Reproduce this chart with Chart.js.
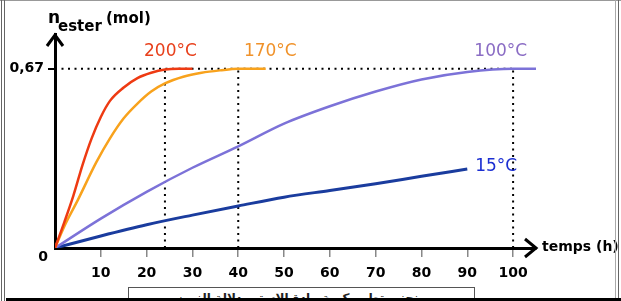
<!DOCTYPE html>
<html>
<head>
<meta charset="utf-8">
<script src="https://cdn.jsdelivr.net/npm/chart.js@4"></script>
<style>
  html, body { margin: 0; padding: 0; background: #fff; }
  #wrap { position: relative; width: 621px; height: 301px; overflow: hidden; background: #fff; }
  #chart { position: absolute; left: 0; top: 0; }
  .line { position: absolute; }
  #caption {
    position: absolute; left: 128px; top: 287px; width: 347px; height: 20px;
    border: 1px solid #555; background: #fff; overflow: hidden;
    font: bold 12px "DejaVu Sans", sans-serif; text-align: center; line-height: 12px;
    padding-top: 4px; box-sizing: border-box;
    direction: rtl; color: #222;
  }
</style>
</head>
<body>
<div id="wrap">
  <canvas id="chart" width="621" height="301"></canvas>
  <div class="line" style="left:0;top:0;width:621px;height:1px;background:#999"></div>
  <div class="line" style="left:1px;top:0;width:1px;height:301px;background:#666"></div>
  <div class="line" style="left:4px;top:0;width:1px;height:301px;background:#666"></div>
  <div class="line" style="left:615px;top:0;width:1px;height:301px;background:#aaa"></div>
  <div class="line" style="left:618px;top:0;width:1px;height:301px;background:#666"></div>
  <div id="caption">منحنى تطور كمية مادة الإستر بدلالة الزمن</div>
  <div class="line" style="left:6px;top:298px;width:615px;height:3px;background:#000"></div>
</div>
<script>
// data: time (h) and n_ester (mol)
const t200 = [0, 2, 4, 6, 8, 10, 12, 15, 18, 21, 24, 27, 30];
const n200 = [0, 0.095, 0.195, 0.31, 0.41, 0.49, 0.55, 0.60, 0.635, 0.655, 0.667, 0.67, 0.67];

const t170 = [0, 2, 5, 9, 12, 15, 18, 21, 24, 28, 32, 36, 40, 46];
const n170 = [0, 0.08, 0.18, 0.32, 0.41, 0.485, 0.54, 0.585, 0.615, 0.64, 0.655, 0.664, 0.67, 0.67];

const t100 = [0, 10, 20, 30, 40, 50, 60, 70, 80, 90, 100, 105];
const n100 = [0, 0.11, 0.21, 0.30, 0.38, 0.465, 0.53, 0.585, 0.63, 0.658, 0.67, 0.67];

const t15 = [0, 10, 20, 30, 40, 50, 60, 70, 80, 90];
const n15 = [0, 0.045, 0.087, 0.123, 0.157, 0.19, 0.215, 0.24, 0.268, 0.295];

const seriesNames = ['200°C', '170°C', '100°C', '15°C'];
const lineColors = ['#ee3a12', '#f8a21c', '#7c72d8', '#1a3c9e'];
const textColors = ['#e8401c', '#f0922a', '#8a6cc4', '#1c2fd2'];
// where each series name sits (time, mol)
const labelT = [25.2, 47, 97.3, 96.3];
const labelN = [0.736, 0.736, 0.736, 0.304];

const nFinal = 0.67;
const markTimes = [24, 40, 100];   // dotted drop lines
const xTicks = [10, 20, 30, 40, 50, 60, 70, 80, 90, 100];

const pts = (ts, ns) => ts.map((t, i) => ({ x: t, y: ns[i] }));
const seriesData = [pts(t200, n200), pts(t170, n170), pts(t100, n100), pts(t15, n15)];

const datasets = seriesData.map((d, i) => ({
    label: seriesNames[i],
    data: d,
    borderColor: lineColors[i],
    borderWidth: i === 3 ? 3 : 2.5,
    pointRadius: 0,
    fill: false,
    cubicInterpolationMode: 'monotone',
    order: 0
}));

const dotted = {
    borderColor: '#000',
    borderWidth: 2,
    borderDash: [2, 4.5],
    pointRadius: 0,
    fill: false,
    order: 1
};
datasets.push({ ...dotted, label: 'h', data: [{ x: 0, y: nFinal }, { x: markTimes[2], y: nFinal }] });
markTimes.forEach(t => {
    datasets.push({ ...dotted, label: 'v' + t, data: [{ x: t, y: 0 }, { x: t, y: nFinal }] });
});

const annotations = {
    id: 'annotations',
    afterDraw(chart) {
        const { ctx, chartArea, scales } = chart;
        const x0 = chartArea.left, y0 = chartArea.bottom;
        ctx.save();
        ctx.strokeStyle = '#000';
        ctx.lineWidth = 3;
        ctx.lineCap = 'butt';
        ctx.lineJoin = 'miter';
        // arrow heads
        ctx.beginPath();
        ctx.moveTo(chartArea.right - 11, y0 - 9);
        ctx.lineTo(chartArea.right, y0);
        ctx.lineTo(chartArea.right - 11, y0 + 9);
        ctx.stroke();
        ctx.beginPath();
        ctx.moveTo(x0 - 8, chartArea.top + 12);
        ctx.lineTo(x0, chartArea.top + 1);
        ctx.lineTo(x0 + 8, chartArea.top + 12);
        ctx.stroke();

        ctx.fillStyle = '#000';
        ctx.textBaseline = 'middle';
        ctx.font = 'bold 14px "DejaVu Sans", sans-serif';
        ctx.textAlign = 'center';
        ctx.fillText('0', x0 - 12, y0 + 9);

        ctx.textAlign = 'left';
        ctx.font = 'bold 14px "DejaVu Sans", sans-serif';
        ctx.fillText('temps (h)', chartArea.right + 6, y0 - 1);

        ctx.textBaseline = 'alphabetic';
        ctx.font = 'bold 17px "DejaVu Sans", sans-serif';
        ctx.fillText('n', 48, 23);
        ctx.font = 'bold 15px "DejaVu Sans", sans-serif';
        ctx.fillText('ester', 58, 31);
        ctx.fillText('(mol)', 106, 23);

        ctx.font = '17px "DejaVu Sans", sans-serif';
        ctx.textAlign = 'center';
        ctx.textBaseline = 'middle';
        seriesNames.forEach((name, i) => {
            ctx.fillStyle = textColors[i];
            ctx.fillText(name, scales.x.getPixelForValue(labelT[i]), scales.y.getPixelForValue(labelN[i]));
        });
        ctx.restore();
    }
};

new Chart(document.getElementById('chart'), {
    type: 'line',
    data: { datasets },
    options: {
        responsive: false,
        animation: false,
        events: [],
        layout: { padding: { left: 0, top: 34, right: 85, bottom: 0 } },
        plugins: { legend: { display: false }, tooltip: { enabled: false } },
        scales: {
            x: {
                type: 'linear',
                min: 0,
                max: 105,
                afterFit: s => { s.height = 53; },
                afterBuildTicks: s => { s.ticks = xTicks.map(v => ({ value: v })); },
                border: { display: true, color: '#000', width: 3 },
                grid: { drawOnChartArea: false, drawTicks: true, tickLength: 9, color: '#888', lineWidth: 1.5 },
                ticks: {
                    color: '#000',
                    padding: 8,
                    maxRotation: 0,
                    autoSkip: false,
                    font: { family: '"DejaVu Sans", sans-serif', size: 14, weight: 'bold' }
                }
            },
            y: {
                type: 'linear',
                min: 0,
                max: 0.8,
                afterFit: s => { s.width = 55; },
                afterBuildTicks: s => { s.ticks = [{ value: nFinal }]; },
                border: { display: true, color: '#000', width: 3 },
                grid: { drawOnChartArea: false, drawTicks: true, tickLength: 7, color: '#000', lineWidth: 2 },
                ticks: {
                    color: '#000',
                    padding: 4,
                    callback: v => String(v).replace('.', ','),
                    font: { family: '"DejaVu Sans", sans-serif', size: 14, weight: 'bold' }
                }
            }
        }
    },
    plugins: [annotations]
});
</script>
</body>
</html>
